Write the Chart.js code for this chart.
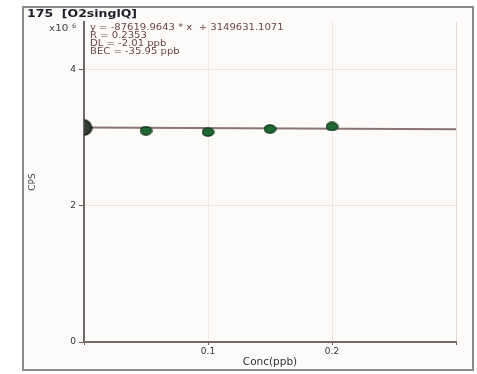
<!DOCTYPE html>
<html>
<head>
<meta charset="utf-8">
<script src="https://cdn.jsdelivr.net/npm/chart.js@4.4.1/dist/chart.umd.min.js"></script>
<style>
  html, body { margin: 0; padding: 0; background: #fff; }
  canvas { display: block; }
</style>
</head>
<body>
<canvas id="calChart" width="477" height="374"></canvas>
<script>
// calibration standards (ppb) and measured CPS
var concPpb = [0, 0.05, 0.1, 0.15, 0.2];
var cpsValues = [3147000, 3103000, 3084000, 3128000, 3166000];
var yTickValues = [0, 2000000, 4000000];
var xTickValues = [0, 0.1, 0.2, 0.3];
var xTickLabels = ['', '0.1', '0.2', ''];
var fitSlope = -87619.9643;
var fitIntercept = 3149631.1071;
var titleText = '175  [O2singlQ]';
var statsLines = ['y = -87619.9643 * x  + 3149631.1071', 'R = 0.2353', 'DL = -2.01 ppb', 'BEC = -35.95 ppb'];

var FONT = '"DejaVu Sans", sans-serif';

// point images (the source squashes the markers a bit)
function makeDot(rx, ry, fill, stroke, rightHalfOnly) {
    var c = document.createElement('canvas');
    c.width = Math.ceil(rx * 2 + 2);
    c.height = Math.ceil(ry * 2 + 2);
    var g = c.getContext('2d');
    if (rightHalfOnly) {
        // the blank sits on the y axis, only the inner half shows
        g.beginPath();
        g.rect(c.width / 2, 0, c.width / 2, c.height);
        g.clip();
    }
    g.beginPath();
    g.ellipse(c.width / 2, c.height / 2, rx, ry, 0, 0, Math.PI * 2);
    g.fillStyle = fill;
    g.fill();
    g.lineWidth = 1.5;
    g.strokeStyle = stroke;
    g.stroke();
    return c;
}
var blankDot = makeDot(7.5, 7.5, '#34402f', '#151515', true);
var stdDot = makeDot(5.5, 4, '#1f6a32', '#0e3a1a', false);

var fitX = [xTickValues[0], xTickValues[xTickValues.length - 1]];
var fitPoints = fitX.map(function (x) { return { x: x, y: fitIntercept + fitSlope * x }; });
var stdPoints = concPpb.map(function (x, i) { return { x: x, y: cpsValues[i] }; });

function wideText(ctx, txt, x, y, sx) {
    ctx.save();
    ctx.translate(x, y);
    ctx.scale(sx, 1);
    ctx.fillText(txt, 0, 0);
    ctx.restore();
}

var framePlugin = {
    id: 'frame',
    beforeDraw: function (chart) {
        var ctx = chart.ctx;
        ctx.save();
        ctx.fillStyle = '#fcfbf9';
        ctx.fillRect(23, 7, 451, 363);
        ctx.strokeStyle = '#8a8a8a';
        ctx.lineWidth = 2;
        ctx.strokeRect(23, 7, 450, 363);
        ctx.restore();
    },
    afterDraw: function (chart) {
        var ctx = chart.ctx;
        ctx.save();
        ctx.textBaseline = 'alphabetic';
        ctx.textAlign = 'left';
        ctx.fillStyle = '#1e1e28';
        ctx.font = 'bold 10px ' + FONT;
        wideText(ctx, titleText, 27, 17, 1.25);

        ctx.fillStyle = '#444';
        ctx.font = '9px ' + FONT;
        wideText(ctx, 'x10', 49, 31, 1.15);
        ctx.font = '6px ' + FONT;
        wideText(ctx, '6', 72, 28, 1.1);

        ctx.fillStyle = '#6a4545';
        ctx.font = '8.5px ' + FONT;
        statsLines.forEach(function (line, i) {
            wideText(ctx, line, 90, 30 + i * 8.1, 1.18);
        });
        ctx.restore();
    }
};

var ctx = document.getElementById('calChart').getContext('2d');
var calChart = new Chart(ctx, {
    type: 'scatter',
    data: {
        datasets: [{
            type: 'line',
            label: 'fit',
            data: fitPoints,
            borderColor: '#8c7474',
            borderWidth: 2,
            pointRadius: 0,
            fill: false,
            order: 2
        }, {
            label: 'std',
            data: stdPoints,
            pointStyle: function (c) { return c.dataIndex === 0 ? blankDot : stdDot; },
            order: 1
        }]
    },
    options: {
        responsive: false,
        animation: false,
        layout: { padding: { left: 0, top: 22, right: 21, bottom: 0 } },
        plugins: {
            legend: { display: false },
            tooltip: { enabled: false }
        },
        scales: {
            x: {
                type: 'linear',
                min: 0,
                max: 0.3,
                afterFit: function (s) { s.height = 32; },
                afterBuildTicks: function (s) {
                    s.ticks = xTickValues.map(function (v) { return { value: v }; });
                },
                ticks: {
                    autoSkip: false,
                    maxRotation: 0,
                    padding: 1,
                    color: '#333',
                    font: { family: FONT, size: 9 },
                    callback: function (v, i) { return xTickLabels[i]; }
                },
                grid: {
                    color: function (c) { return c.index === xTickValues.length - 1 ? '#e2d8d8' : '#eee5e5'; },
                    lineWidth: 1,
                    tickLength: 3,
                    tickColor: '#6d5d5d'
                },
                border: { color: '#7a6868', width: 2 },
                title: {
                    display: true,
                    text: 'Conc(ppb)',
                    color: '#333',
                    font: { family: FONT, size: 10.5 },
                    padding: { top: 0, bottom: 5 }
                }
            },
            y: {
                min: 0,
                max: 4700000,
                afterFit: function (s) { s.width = 84; },
                afterBuildTicks: function (s) {
                    s.ticks = yTickValues.map(function (v) { return { value: v }; });
                },
                ticks: {
                    padding: 3,
                    color: '#333',
                    font: { family: FONT, size: 9 },
                    callback: function (v) { return v / 1000000; }
                },
                grid: { color: '#eee5e5', lineWidth: 1, tickLength: 5, tickColor: '#6d5d5d' },
                border: { color: '#6e6a6a', width: 2 },
                title: {
                    display: true,
                    text: 'CPS',
                    color: '#444',
                    font: { family: FONT, size: 9 },
                    padding: { top: 27, bottom: 0 }
                }
            }
        }
    },
    plugins: [framePlugin]
});
</script>
</body>
</html>
